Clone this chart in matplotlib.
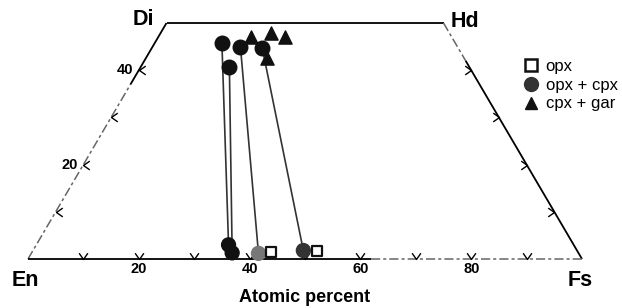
import numpy as np
import matplotlib
matplotlib.use("Agg")
import matplotlib.pyplot as plt
from matplotlib.lines import Line2D

plt.rcParams['font.family'] = ['Liberation Sans', 'DejaVu Sans']

# ---- data (Wo, Fs in atomic percent; En = 100 - Wo - Fs) ----
cpx_pair_wo = [45.8, 40.7, 44.9, 44.6]          # cpx coexisting with opx
cpx_pair_fs = [12.1, 16.0, 15.9, 20.0]
opx_pair_wo = [3.0, 1.3, 1.2, 1.8]               # opx coexisting with cpx
opx_pair_fs = [34.7, 36.2, 41.0, 48.8]
opx_pair_colors = ['#111111', '#111111', '#777777', '#333333']
opx_only_wo = [1.5, 1.8]
opx_only_fs = [43.2, 51.2]
cpx_gar_wo = [47.0, 47.8, 47.1, 42.6]
cpx_gar_fs = [16.8, 19.9, 22.8, 21.9]

bottom_ticks = [10, 20, 30, 40, 50, 60, 70, 80, 90]
bottom_labels = [20, 40, 60, 80]
side_ticks = [10, 20, 30, 40]
side_labels = [20, 40]

S = np.sqrt(3) / 2


def tern(wo, fs):
    wo = np.asarray(wo, float)
    fs = np.asarray(fs, float)
    return fs + wo / 2, wo * S


fig = plt.figure(figsize=(6.22, 3.08), dpi=100)
ax = fig.add_axes([28 / 622, 49 / 308, 554 / 622, 236 / 308])
ax.set_xlim(0, 100)
ax.set_ylim(0, 50 * S)
ax.axis('off')

# ---- quadrilateral outline ----
k = dict(color='black', lw=1.3, clip_on=False, solid_capstyle='butt')
g = dict(color='#666666', lw=1.1, clip_on=False, dashes=(6, 2, 2, 2))
# left edge En-Di
x, y = tern([0, 37], [0, 0]); ax.plot(x, y, **g)
x, y = tern([37, 50], [0, 0]); ax.plot(x, y, **k)
# top edge Di-Hd
x, y = tern([50, 50], [0, 50]); ax.plot(x, y, **k)
# right edge Hd-Fs
x, y = tern([50, 42], [50, 58]); ax.plot(x, y, **g)
x, y = tern([42, 0], [58, 100]); ax.plot(x, y, **k)
# bottom edge En-Fs
x, y = tern([0, 0], [0, 62]); ax.plot(x, y, **k)
x, y = tern([0, 0], [62, 100]); ax.plot(x, y, **g)

# ---- chevron ticks ----
chev_b = [(-0.7, 1), (0, 0), (0.7, 1)]
chev_l = [(1, 0.7), (0, 0), (1, -0.7)]
chev_r = [(-1, 0.7), (0, 0), (-1, -0.7)]
x, y = tern(np.zeros(len(bottom_ticks)), bottom_ticks)
ax.plot(x, y, ls='none', marker=chev_b, ms=9, mfc='none', mec='black', mew=1.0, clip_on=False)
x, y = tern(side_ticks, np.zeros(len(side_ticks)))
ax.plot(x, y, ls='none', marker=chev_l, ms=9, mfc='none', mec='black', mew=1.0, clip_on=False)
x, y = tern(side_ticks, 100 - np.array(side_ticks))
ax.plot(x, y, ls='none', marker=chev_r, ms=9, mfc='none', mec='black', mew=1.0, clip_on=False)

# ---- tick labels ----
for v in bottom_labels:
    ax.text(v, -1.9, str(v), ha='center', va='center', fontsize=10.5, fontweight='bold')
for v in side_labels:
    x, y = tern(v, 0)
    ax.text(x - 1.0, y, str(v), ha='right', va='center', fontsize=10.5, fontweight='bold')

# ---- corner labels ----
ax.text(20.8, 43.9, 'Di', ha='center', va='center', fontsize=15.5, fontweight='bold')
ax.text(78.9, 43.6, 'Hd', ha='center', va='center', fontsize=15.5, fontweight='bold')
ax.text(-0.5, -3.9, 'En', ha='center', va='center', fontsize=15.5, fontweight='bold')
ax.text(99.6, -3.9, 'Fs', ha='center', va='center', fontsize=15.5, fontweight='bold')
fig.text(305 / 622, 1 - 297 / 308, 'Atomic percent', ha='center', va='center',
         fontsize=13, fontweight='bold')

# ---- tie lines ----
for i in range(len(cpx_pair_wo)):
    x, y = tern([cpx_pair_wo[i], opx_pair_wo[i]], [cpx_pair_fs[i], opx_pair_fs[i]])
    ax.plot(x, y, color='#333333', lw=1.2, clip_on=False, zorder=2)

# ---- points ----
x, y = tern(cpx_pair_wo, cpx_pair_fs)
ax.scatter(x, y, s=110, c='#111111', marker='o', clip_on=False, zorder=4)
x, y = tern(opx_pair_wo, opx_pair_fs)
ax.scatter(x, y, s=100, c=opx_pair_colors, marker='o', clip_on=False, zorder=4)
x, y = tern(opx_only_wo, opx_only_fs)
ax.scatter(x, y, s=60, facecolors='white', edgecolors='#111111', linewidths=1.6,
           marker='s', clip_on=False, zorder=4)
x, y = tern(cpx_gar_wo, cpx_gar_fs)
ax.scatter(x, y, s=90, c='#111111', marker='^', clip_on=False, zorder=4)

# ---- legend ----
handles = [
    Line2D([], [], ls='none', marker='s', ms=8, mfc='white', mec='#111111', mew=1.8),
    Line2D([], [], ls='none', marker='o', ms=10, mfc='#333333', mec='#333333'),
    Line2D([], [], ls='none', marker='^', ms=9, mfc='#111111', mec='#111111'),
]
labels = ['opx', 'opx + cpx', 'cpx + gar']
fig.legend(handles, labels, loc='upper left', bbox_to_anchor=(523 / 622, 1 - 59 / 308),
           frameon=False, fontsize=12, handlelength=0.9, handletextpad=0.45,
           labelspacing=0.22, borderpad=0, borderaxespad=0)

fig.savefig('out.png', dpi=100)
